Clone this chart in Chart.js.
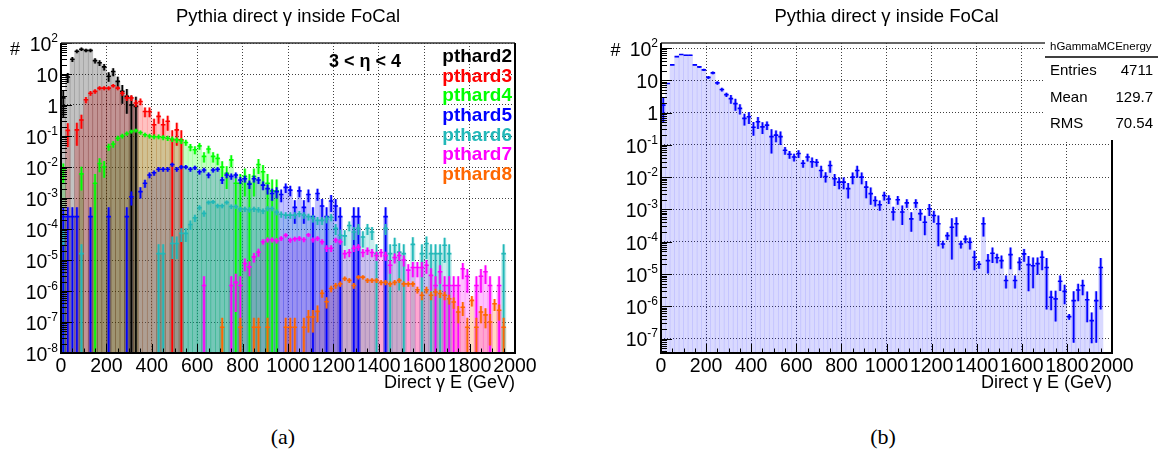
<!DOCTYPE html>
<html>
<head>
<meta charset="utf-8">
<script src="https://cdn.jsdelivr.net/npm/chart.js@4.4.1/dist/chart.umd.min.js"></script>
<style>
  body { margin: 0; background: #fff; width: 1158px; height: 457px; position: relative; overflow: hidden; }
  canvas { position: absolute; top: 0; }
  #leftChart { left: 0; }
  #rightChart { left: 580px; }
  .sub { position: absolute; top: 424px; width: 60px; text-align: center; font: 22px "Liberation Serif", "DejaVu Serif", serif; color: #000; }
</style>
</head>
<body>
<canvas id="leftChart" width="580" height="400"></canvas>
<canvas id="rightChart" width="578" height="400"></canvas>
<div class="sub" style="left:253px">(a)</div>
<div class="sub" style="left:853px">(b)</div>
<script>
const FONT = '"Liberation Sans", Arial, Helvetica, sans-serif';

// histogram binning: 100 bins of 20 GeV from 0 to 2000
const binWidth = 20;
const xMin = 0;
const xMax = 2000;

const titleText = "Pythia direct \u03b3 inside FoCal";
const xTitle = "Direct \u03b3 E (GeV)";
const etaText = "3 < \u03b7 < 4";

const leftDecades = [1e-8, 1e-7, 1e-6, 1e-5, 1e-4, 1e-3, 1e-2, 1e-1, 1, 10, 100];
const rightDecades = [1e-7, 1e-6, 1e-5, 1e-4, 1e-3, 1e-2, 1e-1, 1, 10, 100];

// (a) one histogram per pthard bin, values start at the given bin index
const pthard2 = [1.7, 8, 30, 54, 63, 58, 58, 27, 23, 17, 8.5, 12, 5.8, 2.75, 1.9, 1.0, 0.9];
const pthard3 = [0.152, null, 0.158, 0.33, 1.48, 2.4, 2.75, 3.5, 3.5, 3.5, 4.2, 3.5, 2.4, 1.7, 1.7, 1.16, 1.3,
  0.62, 0.62, 0.23, 0.43, 0.23, 0.30, 0.076, 0.158, 0.076];
const pthard4 = [0.008, null, null, null, 0.006, null, null, 0.003, 0.013, 0.010, 0.045, 0.055, 0.085, 0.10,
  0.12, 0.14, 0.15, 0.13, 0.11, 0.10, 0.095, 0.095, 0.09, 0.085, 0.08, 0.075, 0.07, 0.062, 0.044, 0.036,
  0.048, 0.022, 0.038, 0.022, 0.019, 0.0099, 0.0063, 0.017, 0.003, 0.003, 0.005, 0.003, 0.005, 0.012,
  0.007, 0.003, 0.0017, 0.0017];
const pthard5 = [2.5e-4, 2.5e-4, 2.5e-4, 2.5e-4, null, null, 2.5e-4, null, null, null, 2.5e-4, null, null,
  null, 2.5e-4, 0.0011, null, 0.0016, 0.003, 0.0055, 0.0065, 0.0085, 0.0085, 0.0085, 0.012, 0.0085, 0.010,
  0.010, 0.0085, 0.0095, 0.007, 0.008, 0.0055, 0.008, 0.0085, 0.0038, 0.0055, 0.005, 0.0055, 0.0038, 0.0042,
  0.0028, 0.0042, 0.0038, 0.0026, 0.002, 0.0014, 0.0016, 0.0013, 0.0022, 0.0018, 5e-4, 0.0017, 5e-4, 0.0013,
  2.5e-4, 0.0014, 5.5e-4, 2.5e-4, 8e-4, 5.5e-4, 2.5e-4, null, null, 2.5e-4, 2.5e-4, null, null, null, null,
  null, 2.5e-4];
const pthard6 = [6.3e-5, null, null, null, 1.6e-5, null, null, null, null, null, null, null, null, null, null,
  null, null, null, null, null, null, 1.6e-5, 1.6e-5, null, 3.4e-5, 3.4e-5, 7.2e-5, 7.2e-5, 1.4e-4, 2.3e-4,
  4.9e-4, 3.2e-4, 7.2e-4, 7.5e-4, 5.6e-4, 5.6e-4, 7.2e-4, 5.3e-4, 5.3e-4, 4.4e-4, 4.4e-4, 4.2e-4, 4.4e-4,
  4.2e-4, 3.8e-4, 4.6e-4, 4.6e-4, 3.5e-4, 3e-4, 2.8e-4, 2.8e-4, 2.8e-4, 3.1e-4, 2.8e-4, 2.5e-4, 2.2e-4,
  1.9e-4, 1.9e-4, 2.1e-4, 2.4e-4, 1.05e-4, 6.3e-5, 6e-5, 1.3e-4, 8e-5, 1.05e-4, 5.5e-5, 1.05e-4, 8e-5,
  1.6e-5, null, 1.05e-4, 1.6e-5, 3e-5, 1.8e-5, 1.6e-5, null, 3.2e-5, null, 1.6e-5, 3.4e-5, 1.6e-5, 1.6e-5,
  1.6e-5, 3e-5, 1.6e-5, null, null, null, null, null, null, null, null, null, null, null, 1.6e-5];
const pthard7 = [1.5e-6, null, null, null, null, null, 1.5e-6, 1.9e-6, 1.5e-6, 7.7e-6, 6e-6, 1.26e-5, 1.8e-5,
  3.9e-5, 4.5e-5, 4.5e-5, 4.2e-5, 5e-5, 6.3e-5, 4.4e-5, 4.8e-5, 5e-5, 4.6e-5, 6.5e-5, 4.5e-5, 5e-5, 3.9e-5,
  2.4e-5, 2.4e-5, 4.4e-5, 3.9e-5, 1.6e-5, 1.75e-5, 2.4e-5, 2.6e-5, 1.75e-5, 2e-5, 1.75e-5, 1.4e-5, 1.75e-5,
  1.4e-5, 6.8e-6, 1.2e-5, 1.4e-5, 1e-5, 4.7e-6, 5.7e-6, 5.7e-6, 5.7e-6, 6.8e-6, 3.2e-6, 1.5e-6, 4.2e-6,
  1.5e-6, 1.5e-6, 1.5e-6, 1.5e-6, 5.2e-6, 3e-6, null, 1.5e-6, 3e-6, 4.2e-6, 1.5e-6, null, 1.5e-6];
const pthard8 = [6.8e-8, null, null, null, 6.8e-8, null, null, 6.8e-8, 6.8e-8, null, 6.8e-8, null, null, null,
  6.8e-8, 6.8e-8, 6.8e-8, null, 6.8e-8, 1.45e-7, 1.45e-7, 2.2e-7, 8.5e-7, 4.5e-7, 1.2e-6, 1.5e-6, 1.7e-6,
  2.5e-6, 2.2e-6, 1.5e-6, 2.8e-6, 2.8e-6, 2.2e-6, 2.2e-6, 2.2e-6, 1.9e-6, 1.9e-6, 1.7e-6, 1.9e-6, 2.2e-6,
  1.7e-6, 1.7e-6, 1.7e-6, 1.1e-6, 7.3e-7, 1.1e-6, 7.3e-7, 9.3e-7, 8.3e-7, 7.3e-7, 5.6e-7, 4.4e-7, 2.1e-7,
  3e-7, 6.8e-8, 5e-7, 6.8e-8, 2.1e-7, 1.7e-7, 1e-7, 3.9e-7, 2.4e-7, 6.8e-8];

const pthardNames = ["pthard2", "pthard3", "pthard4", "pthard5", "pthard6", "pthard7", "pthard8"];
const pthardValues = [pthard2, pthard3, pthard4, pthard5, pthard6, pthard7, pthard8];
const pthardFirstBin = [0, 1, 0, 0, 0, 31, 35];
// weight of one entry in each sample (read from the single-entry bins)
const pthardWeights = [1.0, 0.076, 0.003, 2.5e-4, 1.6e-5, 1.5e-6, 6.8e-8];
const pthardColors = ["0,0,0", "255,0,0", "0,255,0", "0,0,255", "34,184,184", "255,0,255", "255,102,0"];

// (b) hGammaMCEnergy, bins 0..97
const mcEnergy = [1.7, 8, 30, 54, 63, 60, 60, 30, 26, 21, 12.3, 17, 8.3, 5.2, 3.6, 2.7, 1.9, 1.35, 0.66, 0.74,
  0.35, 0.52, 0.36, 0.41, 0.18, 0.20, 0.18, 0.068, 0.051, 0.042, 0.054, 0.027, 0.042, 0.030, 0.029, 0.016,
  0.0105, 0.023, 0.0089, 0.007, 0.007, 0.0044, 0.010, 0.016, 0.010, 0.0049, 0.0031, 0.0019, 0.0014, 0.0027,
  0.0021, 8.3e-4, 0.0020, 8.3e-4, 0.0016, 5.1e-4, 0.0016, 7.4e-4, 4e-4, 1.05e-3, 6.5e-4, 3.6e-4, 8.5e-5,
  1.55e-4, 2.8e-4, 3.6e-4, 8.5e-5, 1.22e-4, 9.6e-5, 3.3e-5, 2e-5, 3.6e-4, 2.6e-5, 4.4e-5, 3.2e-5, 2.6e-5,
  6.3e-6, 4e-5, 6.3e-6, 2.3e-5, 4.2e-5, 1.95e-5, 1.8e-5, 2.1e-5, 3.3e-5, 1.6e-5, 1.9e-6, 1.7e-6, 6e-6,
  2.9e-6, 4.8e-7, 1.5e-6, 3.2e-6, 4.4e-6, 1.6e-6, 3.6e-7, 1.5e-6, 1.6e-5];
// relative errors of the same bins
const mcRelErr = [0.7, 0.05, 0.04, 0.04, 0.04, 0.04, 0.04, 0.06, 0.07, 0.08, 0.1, 0.1, 0.12, 0.13, 0.15, 0.3,
  0.4, 0.35, 0.4, 0.4, 0.45, 0.4, 0.4, 0.3, 0.7, 0.4, 0.45, 0.27, 0.27, 0.27, 0.27, 0.27, 0.27, 0.35, 0.27,
  0.4, 0.35, 0.4, 0.4, 0.4, 0.4, 0.5, 0.4, 0.4, 0.4, 0.55, 0.55, 0.35, 0.35, 0.3, 0.3, 0.45, 0.3, 0.6, 0.3,
  0.6, 0.3, 0.4, 0.6, 0.4, 0.4, 0.8, 0.27, 0.27, 0.9, 0.6, 0.27, 0.27, 0.4, 0.6, 0.27, 0.6, 0.6, 0.5, 0.33,
  0.43, 0.43, 0.65, 0.43, 0.43, 0.43, 0.85, 0.8, 0.55, 0.6, 0.95, 0.6, 0.8, 0.5, 0.6, 0.2, 0.95, 0.55, 0.5,
  0.8, 0.8, 0.95, 0.95];

const statsName = "hGammaMCEnergy";
const statsLabels = ["Entries", "Mean", "RMS"];
const statsValues = ["4711", "129.7", "70.54"];

function powerLabel(v) {
  const p = Math.round(Math.log10(v));
  if (p === 0) return ["1", ""];
  if (p === 1) return ["10", ""];
  return ["10", String(p)];
}

function toPoints(values, firstBin, errFor) {
  const pts = [];
  values.forEach((v, k) => {
    if (v == null) return;
    const i = firstBin + k;
    pts.push({ x: xMin + (i + 0.5) * binWidth, y: v, e: errFor(v, i) });
  });
  return pts;
}

// error crosses with a light box, like ROOT "E" drawing
const errorBars = {
  id: "errorBars",
  afterDatasetsDraw(chart) {
    const { ctx, chartArea: a, scales: { x, y } } = chart;
    ctx.save();
    ctx.beginPath();
    ctx.rect(a.left, a.top, a.right - a.left, a.bottom - a.top);
    ctx.clip();
    chart.data.datasets.forEach((ds) => {
      ds.data.forEach((p) => {
        const xl = x.getPixelForValue(p.x - binWidth / 2);
        const xr = x.getPixelForValue(p.x + binWidth / 2);
        const xc = (xl + xr) / 2;
        const yc = y.getPixelForValue(p.y);
        const yt = y.getPixelForValue(p.y + p.e);
        const lo = p.y - p.e;
        const yb = lo > 1e-12 ? y.getPixelForValue(lo) : a.bottom;
        const hw = (xr - xl) * 0.35;
        ctx.fillStyle = ds.haloColor;
        ctx.fillRect(xc - hw, yt, 2 * hw, yb - yt);
        ctx.strokeStyle = ds.errorColor;
        ctx.lineWidth = 1.6;
        ctx.beginPath();
        ctx.moveTo(xc, yt);
        ctx.lineTo(xc, yb);
        ctx.moveTo(xl, yc);
        ctx.lineTo(xr, yc);
        ctx.stroke();
      });
    });
    ctx.restore();
  },
};

function rootFrame(extra) {
  return {
    id: "rootFrame",
    afterDraw(chart) {
      const { ctx, chartArea: a, scales: { x, y } } = chart;
      ctx.save();
      ctx.strokeStyle = "#000";
      ctx.lineWidth = 1;
      ctx.beginPath();
      const lo = Math.floor(Math.log10(y.min));
      const hi = Math.ceil(Math.log10(y.max));
      for (let d = lo; d <= hi; d++) {
        for (let k = 1; k <= 9; k++) {
          const v = k * Math.pow(10, d);
          if (v < y.min * 0.999 || v > y.max * 1.001) continue;
          const py = Math.round(y.getPixelForValue(v)) + 0.5;
          ctx.moveTo(a.left, py);
          ctx.lineTo(a.left + (k === 1 ? 11 : 6), py);
        }
      }
      for (let e = xMin; e <= xMax; e += 50) {
        const px = Math.round(x.getPixelForValue(e)) + 0.5;
        ctx.moveTo(px, a.bottom);
        ctx.lineTo(px, a.bottom - (e % 200 === 0 ? 9 : 4.5));
      }
      ctx.stroke();

      ctx.strokeStyle = "#333";
      ctx.lineWidth = 1.5;
      ctx.beginPath();
      ctx.moveTo(a.left, a.top);
      ctx.lineTo(a.right, a.top);
      ctx.stroke();
      ctx.strokeStyle = "#000";
      ctx.lineWidth = 2;
      ctx.beginPath();
      ctx.moveTo(a.right, a.top);
      ctx.lineTo(a.right, a.bottom);
      ctx.moveTo(a.left - 1, a.bottom);
      ctx.lineTo(a.right + 1, a.bottom);
      ctx.moveTo(a.left, a.top);
      ctx.lineTo(a.left, a.bottom + 1);
      ctx.stroke();

      // y tick labels as 10 with a raised exponent
      ctx.fillStyle = "#000";
      ctx.textAlign = "right";
      ctx.textBaseline = "middle";
      y.ticks.forEach((t) => {
        const [base, exp] = powerLabel(t.value);
        const py = y.getPixelForValue(t.value);
        let right = a.left - 3;
        if (exp) {
          ctx.font = `12px ${FONT}`;
          ctx.fillText(exp, right, py - 4.5);
          right -= ctx.measureText(exp).width;
        }
        ctx.font = `19.5px ${FONT}`;
        ctx.fillText(base, right, py + 2.5);
      });

      extra(ctx, a);
      ctx.restore();
    },
  };
}

function makeOptions(yMin, yMax, decades, yWidth, padRight) {
  return {
    responsive: false,
    animation: false,
    events: [],
    layout: { padding: { left: 0, right: padRight, top: 0, bottom: 0 } },
    plugins: {
      legend: { display: false },
      tooltip: { enabled: false },
      title: {
        display: true,
        text: titleText,
        fullSize: false,
        color: "#000",
        font: { family: FONT, size: 18.5, weight: "normal", lineHeight: 1 },
        padding: { top: 8, bottom: 16.5 },
      },
    },
    scales: {
      x: {
        type: "linear",
        min: xMin,
        max: xMax,
        offset: false,
        afterFit: (s) => { s.height = 47; },
        ticks: {
          stepSize: 200,
          autoSkip: false,
          maxRotation: 0,
          minRotation: 0,
          padding: 2,
          color: "#000",
          font: { family: FONT, size: 19.5 },
          callback: (v) => String(v),
        },
        grid: { color: "rgba(0,0,0,0.75)", drawTicks: false, offset: false },
        border: { display: false, dash: [1, 2] },
        title: {
          display: true,
          text: xTitle,
          align: "end",
          color: "#000",
          font: { family: FONT, size: 18, lineHeight: 1.2 },
          padding: { top: 0, bottom: 6.5 },
        },
      },
      y: {
        type: "logarithmic",
        min: yMin,
        max: yMax,
        afterFit: (s) => { s.width = yWidth; },
        afterBuildTicks: (s) => { s.ticks = decades.map((v) => ({ value: v })); },
        ticks: { display: false },
        grid: { color: "rgba(0,0,0,0.75)", drawTicks: false },
        border: { display: false, dash: [1, 2] },
      },
    },
  };
}

// left panel
const leftDatasets = pthardValues.map((vals, s) => ({
  label: pthardNames[s],
  data: toPoints(vals, pthardFirstBin[s], (v) => Math.sqrt(v * pthardWeights[s])),
  backgroundColor: `rgba(${pthardColors[s]},0.24)`,
  errorColor: `rgb(${pthardColors[s]})`,
  haloColor: `rgba(${pthardColors[s]},0.3)`,
  borderWidth: 0,
  grouped: false,
  barPercentage: 1,
  categoryPercentage: 1,
}));

new Chart(document.getElementById("leftChart"), {
  type: "bar",
  data: { datasets: leftDatasets },
  options: makeOptions(1e-8, 100, leftDecades, 61, 65),
  plugins: [errorBars, rootFrame((ctx, a) => {
    ctx.fillStyle = "#000";
    ctx.font = `18px ${FONT}`;
    ctx.textAlign = "center";
    ctx.textBaseline = "middle";
    ctx.fillText("#", 15, 50);
    ctx.font = `bold 18px ${FONT}`;
    ctx.fillText(etaText, 365, 62);
    ctx.textAlign = "right";
    ctx.font = `bold 19px ${FONT}`;
    pthardNames.forEach((name, s) => {
      ctx.fillStyle = `rgb(${pthardColors[s]})`;
      ctx.fillText(name, 512, 57 + 19.6 * s);
    });
  })],
});

// right panel
const rightDatasets = [{
  label: statsName,
  data: toPoints(mcEnergy, 0, (v, i) => v * mcRelErr[i]),
  backgroundColor: "rgba(0,0,255,0.15)",
  errorColor: "rgb(0,0,255)",
  haloColor: "rgba(0,0,255,0.3)",
  borderWidth: 0,
  grouped: false,
  barPercentage: 1,
  categoryPercentage: 1,
}];

new Chart(document.getElementById("rightChart"), {
  type: "bar",
  data: { datasets: rightDatasets },
  options: makeOptions(3.58e-8, 143, rightDecades, 81, 46),
  plugins: [errorBars, rootFrame((ctx, a) => {
    ctx.fillStyle = "#000";
    ctx.font = `18px ${FONT}`;
    ctx.textAlign = "center";
    ctx.textBaseline = "middle";
    ctx.fillText("#", 35.5, 51);
    // stats box
    const bx = 465;
    ctx.fillStyle = "#fff";
    ctx.fillRect(bx, 36, 578 - bx, 104);
    ctx.strokeStyle = "#000";
    ctx.lineWidth = 1.5;
    ctx.beginPath();
    ctx.moveTo(bx, 57);
    ctx.lineTo(578, 57);
    ctx.stroke();
    ctx.fillStyle = "#000";
    ctx.textAlign = "left";
    ctx.font = `11.5px ${FONT}`;
    ctx.fillText(statsName, bx + 5, 47);
    ctx.font = `15px ${FONT}`;
    statsLabels.forEach((lab, k) => {
      const yy = 71 + 26.5 * k;
      ctx.textAlign = "left";
      ctx.fillText(lab, bx + 5, yy);
      ctx.textAlign = "right";
      ctx.fillText(statsValues[k], 573, yy);
    });
  })],
});
</script>
</body>
</html>
